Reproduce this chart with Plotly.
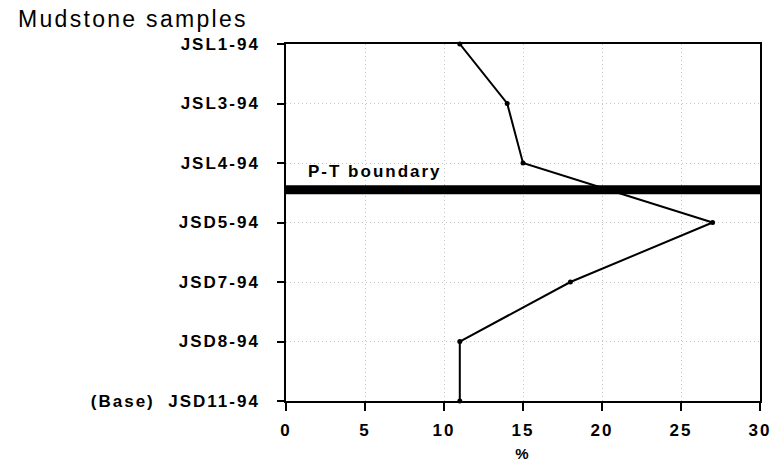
import plotly.graph_objects as go

# Sample sequence, top of section to base
samples = ["JSL1-94", "JSL3-94", "JSL4-94", "JSD5-94", "JSD7-94", "JSD8-94", "JSD11-94"]
percent = [11, 14, 15, 27, 18, 11, 11]
x_ticks = [0, 5, 10, 15, 20, 25, 30]

tick_labels = samples[:-1] + ["(Base)\u00a0\u00a0" + samples[-1]]
y_pos = list(range(len(samples)))
boundary_y = 2.45  # between JSL4-94 and JSD5-94

FONT = "Liberation Sans, Arial, Helvetica, sans-serif"
GRID = "#c4c4c4"

fig = go.Figure()
fig.add_trace(go.Scatter(
    x=percent, y=y_pos, mode="lines+markers",
    line=dict(color="black", width=2),
    marker=dict(color="black", size=5),
    showlegend=False, cliponaxis=False,
))

# Permian-Triassic boundary band
fig.add_shape(type="line", xref="x", yref="y", x0=0, x1=30, y0=boundary_y, y1=boundary_y,
              line=dict(color="black", width=9))
fig.add_annotation(x=2.0, y=boundary_y - 0.12, xref="x", yref="y", text="<b>P-T boundary</b>",
                   showarrow=False, xanchor="left", yanchor="bottom",
                   font=dict(family=FONT, size=17, color="black"))

fig.update_layout(
    width=778, height=465,
    margin=dict(l=286, r=18, t=44, b=64),
    paper_bgcolor="white", plot_bgcolor="white",
    title=dict(text="Mudstone samples", x=18 / 778, xanchor="left", y=1 - 19 / 465, yanchor="middle",
               font=dict(family=FONT, size=23, color="black")),
    xaxis=dict(range=[0, 30], tickvals=x_ticks, ticks="outside", ticklen=8, tickcolor="black",
               tickwidth=1.5, showline=True, linecolor="black", linewidth=1.5, mirror=True,
               showgrid=True, gridcolor=GRID, griddash="1px,3px", gridwidth=1,
               zeroline=False, ticklabelstandoff=5, automargin=False,
               tickfont=dict(family=FONT, size=17, color="black", weight="bold"),
               title=dict(text="<b>%</b>", font=dict(family=FONT, size=15, color="black"), standoff=9)),
    yaxis=dict(range=[6, 0], tickvals=y_pos, ticktext=tick_labels, ticks="outside", ticklen=7,
               tickcolor="black", tickwidth=1.5, showline=True, linecolor="black", linewidth=1.5,
               mirror=True, showgrid=True, gridcolor=GRID, griddash="1px,3px", gridwidth=1,
               zeroline=False, ticklabelstandoff=14, automargin=False,
               tickfont=dict(family=FONT, size=17, color="black", weight="bold")),
)

# Wider letter spacing for the typewriter-style labels
spacing_js = """
var gd = document.getElementsByClassName('plotly-graph-div')[0];
function spaceText() {
  gd.querySelectorAll('.xtick text, .ytick text, .annotation-text, .xtitle').forEach(function(t) {
    t.style.letterSpacing = '2px';
  });
  gd.querySelectorAll('.gtitle').forEach(function(t) { t.style.letterSpacing = '2.3px'; });
}
spaceText();
gd.on('plotly_afterplot', spaceText);
"""

fig.write_html("out.html", post_script=spacing_js)
